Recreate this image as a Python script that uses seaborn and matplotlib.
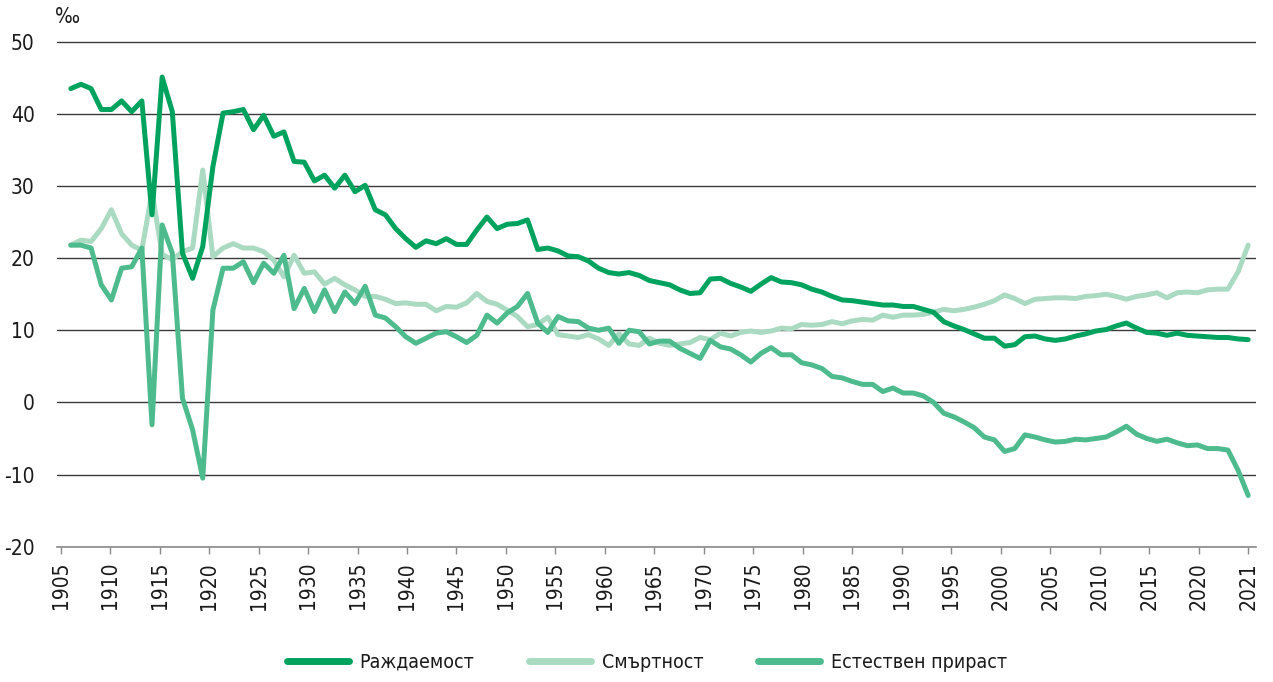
import numpy as np
import pandas as pd
import matplotlib
matplotlib.use('Agg')
import matplotlib.pyplot as plt
from matplotlib import font_manager
from matplotlib.lines import Line2D
import seaborn as sns

# Yearly rates per 1000
years = list(range(1905, 2022))

birth = [43.5, 44.1, 43.5, 40.6, 40.6, 41.8, 40.3, 41.8, 26.0, 45.1,
         40.3, 20.7, 17.2, 21.6, 32.7, 40.1, 40.3, 40.6, 37.8, 39.8,
         36.9, 37.5, 33.4, 33.3, 30.7, 31.5, 29.7, 31.5, 29.2, 30.1,
         26.7, 26.0, 24.1, 22.7, 21.5, 22.4, 22.0, 22.7, 21.9, 21.9,
         23.9, 25.7, 24.1, 24.7, 24.8, 25.3, 21.2, 21.4, 21.0, 20.3,
         20.2, 19.6, 18.6, 18.0, 17.8, 18.0, 17.6, 16.9, 16.6, 16.3,
         15.6, 15.1, 15.2, 17.1, 17.2, 16.5, 16.0, 15.4, 16.4, 17.3,
         16.7, 16.6, 16.3, 15.7, 15.3, 14.7, 14.2, 14.1, 13.9, 13.7,
         13.5, 13.5, 13.3, 13.3, 12.9, 12.5, 11.2, 10.6, 10.1, 9.5,
         8.9, 8.9, 7.8, 8.0, 9.1, 9.2, 8.8, 8.6, 8.8, 9.2,
         9.5, 9.9, 10.1, 10.6, 11.0, 10.3, 9.7, 9.6, 9.3, 9.6,
         9.3, 9.2, 9.1, 9.0, 9.0, 8.8, 8.7]

death = [21.8, 22.5, 22.3, 24.1, 26.7, 23.4, 21.8, 21.1, 29.2, 20.5,
         19.8, 20.9, 21.4, 32.2, 20.2, 21.4, 22.0, 21.4, 21.4, 20.9,
         19.7, 17.4, 20.4, 17.9, 18.1, 16.4, 17.2, 16.3, 15.6, 14.7,
         14.7, 14.3, 13.7, 13.8, 13.6, 13.6, 12.7, 13.3, 13.2, 13.8,
         15.1, 14.0, 13.6, 12.8, 11.9, 10.5, 10.8, 11.8, 9.4, 9.2,
         9.0, 9.4, 8.8, 7.9, 9.5, 8.1, 7.9, 8.9, 8.2, 7.9,
         8.1, 8.3, 9.0, 8.7, 9.6, 9.2, 9.7, 9.9, 9.7, 9.9,
         10.3, 10.2, 10.8, 10.7, 10.8, 11.2, 10.9, 11.3, 11.5, 11.4,
         12.1, 11.8, 12.1, 12.1, 12.2, 12.5, 12.9, 12.7, 12.9, 13.2,
         13.6, 14.1, 14.9, 14.4, 13.7, 14.3, 14.4, 14.5, 14.5, 14.4,
         14.7, 14.8, 15.0, 14.7, 14.3, 14.7, 14.9, 15.2, 14.5, 15.2,
         15.3, 15.2, 15.6, 15.7, 15.7, 18.1, 21.8]

natural = [21.8, 21.8, 21.4, 16.3, 14.2, 18.6, 18.8, 21.4, -3.1, 24.6,
           20.7, 0.6, -3.8, -10.5, 12.8, 18.6, 18.6, 19.5, 16.6, 19.3,
           17.9, 20.4, 13.0, 15.8, 12.6, 15.6, 12.6, 15.3, 13.7, 16.1,
           12.1, 11.7, 10.5, 9.1, 8.2, 8.9, 9.6, 9.8, 9.1, 8.3,
           9.3, 12.1, 11.0, 12.4, 13.3, 15.1, 11.0, 9.7, 11.9, 11.3,
           11.2, 10.3, 10.0, 10.3, 8.2, 10.0, 9.8, 8.1, 8.5, 8.5,
           7.5, 6.8, 6.1, 8.6, 7.7, 7.4, 6.6, 5.6, 6.8, 7.6,
           6.6, 6.6, 5.5, 5.2, 4.7, 3.6, 3.4, 2.9, 2.5, 2.5,
           1.5, 2.0, 1.3, 1.3, 0.9, 0.0, -1.5, -2.0, -2.7, -3.5,
           -4.8, -5.2, -6.8, -6.4, -4.5, -4.8, -5.2, -5.5, -5.4, -5.1,
           -5.2, -5.0, -4.8, -4.1, -3.3, -4.4, -5.0, -5.4, -5.1, -5.6,
           -6.0, -5.9, -6.4, -6.4, -6.6, -9.4, -12.9]

series_names = ['Раждаемост', 'Смъртност', 'Естествен прираст']
series_colors = ['#00A35E', '#AADAC2', '#4DBB8D']
y_ticks = list(range(-20, 51, 10))
x_tick_labels = [str(y) for y in range(1905, 2021, 5)] + ['2021']

df = pd.DataFrame({'year': years,
                   series_names[0]: birth,
                   series_names[1]: death,
                   series_names[2]: natural})
long_df = df.melt(id_vars='year', var_name='series', value_name='value')
palette = dict(zip(series_names, series_colors))

sns.set_theme(style='white')

# the reference uses a condensed face; take a narrow one if the system has it
fonts = font_manager.fontManager.ttflist
font_names = {f.name for f in fonts}
if 'Liberation Sans Narrow' in font_names:
    plt.rcParams['font.family'] = ['Liberation Sans Narrow', 'DejaVu Sans']
elif any(f.name == 'DejaVu Sans' and f.stretch in ('condensed', 'semi-condensed') for f in fonts):
    plt.rcParams['font.family'] = ['DejaVu Sans']
    plt.rcParams['font.stretch'] = 'condensed'
else:
    plt.rcParams['font.family'] = ['Roboto', 'DejaVu Sans']
plt.rcParams['axes.unicode_minus'] = False
plt.rcParams['text.color'] = '#1a1a1a'

W, H = 1273, 682
fig = plt.figure(figsize=(W / 100, H / 100), dpi=100)
ax = fig.add_axes([57 / W, 1 - 547.4 / H, 1199 / W, 506.4 / H])

# light death line underneath, birth on top
for name in [series_names[1], series_names[2], series_names[0]]:
    sns.lineplot(data=long_df[long_df['series'] == name], x='year', y='value',
                 color=palette[name], linewidth=3.6, ax=ax, legend=False)
for line in ax.get_lines():
    line.set_solid_capstyle('round')
    line.set_solid_joinstyle('round')

ax.set_xlim(1903.64, 2021.77)
ax.set_ylim(-20.1, 50.1)
ax.set_yticks(y_ticks)
ax.set_xticks(np.linspace(years[0] - 1, years[-1], len(x_tick_labels)))
ax.set_xticklabels(x_tick_labels)
ax.yaxis.grid(True, color='#3a3a3a', linewidth=1.0)
ax.xaxis.grid(False)
ax.set_axisbelow(True)
ax.set_xlabel('')
ax.set_ylabel('')

for side in ['top', 'left', 'right']:
    ax.spines[side].set_visible(False)
ax.spines['bottom'].set_position(('data', -20))
ax.spines['bottom'].set_color('#8a8a8a')
ax.spines['bottom'].set_linewidth(1.2)

ax.tick_params(axis='x', direction='out', length=5, width=1, color='#8a8a8a',
               pad=6, labelrotation=90, labelsize=15, labelcolor='#1a1a1a', bottom=True)
ax.tick_params(axis='y', length=0, pad=16, labelsize=15, labelcolor='#1a1a1a')

fig.text(55 / W, 1 - 23 / H, '‰', fontsize=15, va='baseline', ha='left')

handles = [Line2D([], [], color=c, linewidth=5, solid_capstyle='round') for c in series_colors]
fig.legend(handles, series_names, loc='center', bbox_to_anchor=(0.508, 0.029),
           ncol=3, frameon=False, handlelength=3.2, handletextpad=0.55,
           columnspacing=2.8, fontsize=14)

fig.savefig('out.png', dpi=100)
